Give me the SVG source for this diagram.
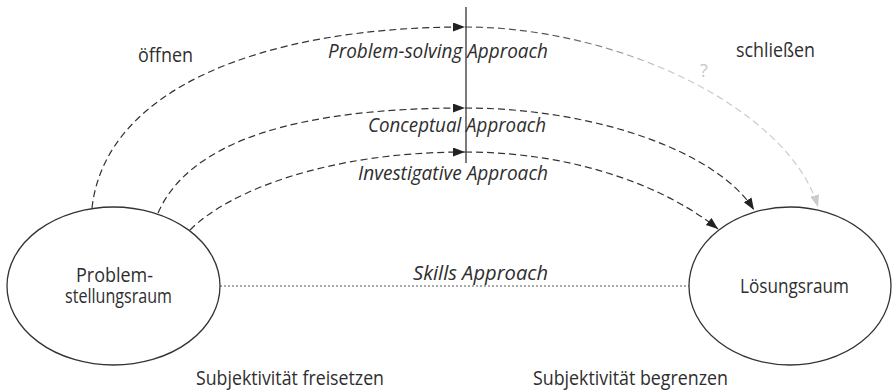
<svg xmlns="http://www.w3.org/2000/svg" width="892" height="390" viewBox="0 0 892 390">
  <style>
    .t { font-family: "Open Sans", "Noto Sans", sans-serif; font-size: 19.5px; fill: #2e2e2e; }
    .i { font-style: italic; }
    .node { fill: none; stroke: #333; stroke-width: 1.3; }
    .dash { fill: none; stroke: #333; stroke-width: 1.2; stroke-dasharray: 7 4; }
    .dot { fill: none; stroke: #555; stroke-width: 1; stroke-dasharray: 2 2; }
  </style>
  <defs>
    <marker id="arr" markerUnits="userSpaceOnUse" markerWidth="13" markerHeight="10" refX="12" refY="4.5" orient="auto">
      <path d="M0,0 L12,4.5 L0,9 z" fill="#222"/>
    </marker>
    <marker id="arrGray" markerUnits="userSpaceOnUse" markerWidth="13" markerHeight="10" refX="12" refY="4.5" orient="auto">
      <path d="M0,0 L12,4.5 L0,9 z" fill="#cbcbcb"/>
    </marker>
    <linearGradient id="fade" gradientUnits="userSpaceOnUse" x1="560" y1="0" x2="660" y2="0">
      <stop offset="0" stop-color="#555"/>
      <stop offset="1" stop-color="#cbcbcb"/>
    </linearGradient>
  </defs>

  <g id="connectors">
    <!-- Problem-solving Approach -->
    <path class="dash" d="M92,208 C105,90 260,27 465,27" marker-end="url(#arr)"/>
    <path class="dash" style="stroke:url(#fade)" d="M465,27 C620,27 790,110 818,207" marker-end="url(#arrGray)"/>
    <!-- Conceptual Approach -->
    <path class="dash" d="M158,213 C190,140 300,108 465,108" marker-end="url(#arr)"/>
    <path class="dash" d="M465,108 C595,108 718,152 754,210" marker-end="url(#arr)"/>
    <!-- Investigative Approach -->
    <path class="dash" d="M190,230 C230,190 330,152 465,152" marker-end="url(#arr)"/>
    <path class="dash" d="M465,152 C580,152 670,190 718,229" marker-end="url(#arr)"/>
    <!-- Skills Approach -->
    <path class="dot" d="M220,286 L689,286"/>
    <!-- divider -->
    <line x1="466" y1="7" x2="466" y2="163" stroke="#333" stroke-width="1.3"/>
  </g>

  <g id="problemraum">
    <ellipse class="node" cx="113.5" cy="286" rx="106.5" ry="79"/>
    <text class="t"><tspan x="76" y="282" textLength="77" lengthAdjust="spacingAndGlyphs">Problem-</tspan><tspan x="65" y="303" textLength="107" lengthAdjust="spacingAndGlyphs">stellungsraum</tspan></text>
  </g>

  <g id="loesungsraum">
    <ellipse class="node" cx="790" cy="286" rx="101" ry="79"/>
    <text class="t" x="740" y="293" textLength="109" lengthAdjust="spacingAndGlyphs">Lösungsraum</text>
  </g>

  <g id="labels">
    <text class="t" x="138" y="62" textLength="55" lengthAdjust="spacingAndGlyphs">öffnen</text>
    <text class="t" x="736" y="57" textLength="79" lengthAdjust="spacingAndGlyphs">schließen</text>
    <text class="t i" x="328" y="58" textLength="220" lengthAdjust="spacingAndGlyphs">Problem-solving Approach</text>
    <text class="t i" x="368" y="132" textLength="178" lengthAdjust="spacingAndGlyphs">Conceptual Approach</text>
    <text class="t i" x="358" y="180" textLength="190" lengthAdjust="spacingAndGlyphs">Investigative Approach</text>
    <text class="t i" x="413" y="280" textLength="135" lengthAdjust="spacingAndGlyphs">Skills Approach</text>
    <text class="t" x="700" y="77" style="fill:#c8c8c8;font-size:18px">?</text>
    <text class="t" x="196" y="385" textLength="188" lengthAdjust="spacingAndGlyphs">Subjektivität freisetzen</text>
    <text class="t" x="533" y="385" textLength="195" lengthAdjust="spacingAndGlyphs">Subjektivität begrenzen</text>
  </g>
</svg>
